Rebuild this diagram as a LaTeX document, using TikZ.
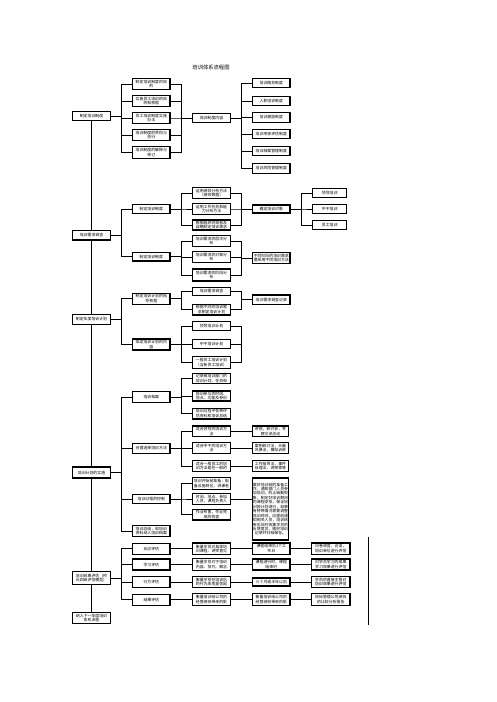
\documentclass[tikz,border=0pt]{standalone}
\usepackage{fontspec}
\newfontfamily\cjk{Noto Sans CJK SC}
\begin{document}
\begin{tikzpicture}[x=1pt,y=-1pt]
\tikzset{
 bx/.style={draw, line width=1.15pt, minimum width=37.3pt, minimum height=9.5pt, inner sep=0.3pt, align=center, font=\cjk\fontsize{3.9}{4.6}\selectfont},
 bxx/.style={bx, minimum height=11.5pt},
 ln/.style={line width=0.9pt},
 ttl/.style={font=\cjk\fontsize{5.3}{6}\selectfont, inner sep=0pt}
}
\fill[white] (0,0) rectangle (496,702);
\useasboundingbox (0,0) rectangle (496,702);
\coordinate (b1) at (121.7,0);
\coordinate (b2) at (181.5,0);
\coordinate (b3) at (241.7,0);
\coordinate (b4) at (301.7,0);

\node[ttl] (title) at (211,67.5) {培训体系流程图};

% left column
\node[bx, minimum width=38.4pt] (L1) at (91.5,116) {制定培训制度};
\node[bx, minimum width=38.4pt] (L2) at (91.5,235.3) {培训需求调查};
\node[bx, minimum width=38.4pt] (L3) at (91.5,319.5) {制定年度培训计划};
\node[bx, minimum width=38.4pt, minimum height=11pt] (L4) at (91.5,472.5) {培训计划的实施};
\node[bx, minimum width=38.4pt, minimum height=12.6pt] (L5) at (91.5,578) {培训效果评估（柯\\氏四级评估模型）};
\node[bx, minimum width=38.4pt, minimum height=11pt] (L6) at (91.5,617.8) {纳入下一年度培训\\体系流程};
\draw[ln] (L1.south) -- (L2.north);
\draw[ln] (L2.south) -- (L3.north);
\draw[ln] (L3.south) -- (L4.north);
\draw[ln] (L4.south) -- (L5.north);
\draw[ln] (L5.south) -- (L6.north);

% section 1
\node[bxx] (A1) at (151.3,84) {制定培训制度的目\\的};
\node[bxx] (A2) at (151.3,101) {实施员工培训的目\\的和依据};
\node[bxx] (A3) at (151.3,118) {员工培训制度实施\\办法};
\node[bxx] (A4) at (151.3,135) {培训制度的贯彻与\\执行};
\node[bxx] (A5) at (151.3,152.4) {培训制度的解释与\\修订};
\node[bx, minimum width=38.4pt, minimum height=8.5pt] (M1) at (211.5,118) {培训制度内容};
\node[bx] (R1) at (271.3,83) {培训服务制度};
\node[bx] (R2) at (271.3,101) {入职培训制度};
\node[bx] (R3) at (271.3,117.5) {培训激励制度};
\node[bx] (R4) at (271.3,134) {培训考核评估制度};
\node[bx] (R5) at (271.3,151) {培训档案管理制度};
\node[bx] (R6) at (271.3,168.5) {培训风险管理制度};
\foreach \c in {A1,A2,A3,A4,A5} {
  \draw[ln] (L1.east) -- (L1.east -| b1) |- (\c.west);
  \draw[ln] (\c.east) -- (\c.east -| b2) |- (M1.west);
}
\foreach \c in {R1,R2,R3,R4,R5,R6}
  \draw[ln] (M1.east) -- (M1.east -| b3) |- (\c.west);

% section 2
\node[bx, minimum height=8.5pt] (B1) at (151.3,209) {制定培训制度};
\node[bx, minimum height=8.5pt] (B2) at (151.3,256.8) {制定培训制度};
\node[bx, minimum width=38.4pt, minimum height=11pt] (F1) at (211.5,193) {运用绩效分析方法\\（绩效数据）};
\node[bx, minimum width=38.4pt, minimum height=10.3pt] (F2) at (211.5,209) {运用工作任务和能\\力分析方法};
\node[bx, minimum width=38.4pt, minimum height=10pt] (F3) at (211.5,225) {根据组织的目标及\\战略制定培训需求};
\node[bx, minimum width=38.4pt, minimum height=11.5pt] (G1) at (211.5,241) {培训需求的层次分\\析};
\node[bx, minimum width=38.4pt, minimum height=11pt] (G2) at (211.5,257.2) {培训需求的对象分\\析};
\node[bx, minimum width=38.4pt, minimum height=12pt] (G3) at (211.5,275) {培训需求的阶段分\\析};
\node[bx, minimum height=8pt] (S1) at (271.3,209) {确定培训对象};
\node[bx, minimum height=10.6pt] (S2) at (271.3,258) {不同阶段的培训需求\\要采用不同培训方法};
\node[bx, minimum width=34pt, minimum height=9pt] (Z1) at (329.7,193) {领导培训};
\node[bx, minimum width=34pt, minimum height=9pt] (Z2) at (329.7,209) {中干培训};
\node[bx, minimum width=34pt, minimum height=9pt] (Z3) at (329.7,225) {员工培训};
\draw[ln] (L2.east) -- (L2.east -| b1) |- (B1.west);
\draw[ln] (L2.east) -- (L2.east -| b1) |- (B2.west);
\foreach \c in {F1,F2,F3} {
  \draw[ln] (B1.east) -- (B1.east -| b2) |- (\c.west);
  \draw[ln] (\c.east) -- (\c.east -| b3) |- (S1.west);
}
\foreach \c in {G1,G2,G3} {
  \draw[ln] (B2.east) -- (B2.east -| b2) |- (\c.west);
  \draw[ln] (\c.east) -- (\c.east -| b3) |- (S2.west);
}
\foreach \c in {Z1,Z2,Z3}
  \draw[ln] (S1.east) -- (S1.east -| b4) |- (\c.west);

% section 3
\node[bx, minimum height=11pt] (C1) at (151.3,298.8) {制定培训计划的指\\导依据};
\node[bx, minimum height=11pt] (C2) at (151.3,344.5) {拟定培训计划的内\\容};
\node[bx, minimum width=38.4pt, minimum height=8.5pt] (H1) at (211.5,291.5) {培训需求调查};
\node[bx, minimum width=38.4pt, minimum height=10.7pt] (H2) at (211.5,309.7) {根据不同的培训需\\求制定培训计划};
\node[bx, minimum height=9.3pt] (T1) at (271.3,299.7) {培训需求调查记录};
\node[bx, minimum width=38.4pt, minimum height=8.5pt] (I1) at (211.5,326) {领导培训计划};
\node[bx, minimum width=38.4pt, minimum height=8.5pt] (I2) at (211.5,344) {中干培训计划};
\node[bx, minimum width=38.4pt, minimum height=11.6pt] (I3) at (211.5,362.5) {一般员工培训计划\\（含新员工培训）};
\draw[ln] (L3.east) -- (L3.east -| b1) |- (C1.west);
\draw[ln] (L3.east) -- (L3.east -| b1) |- (C2.west);
\foreach \c in {H1,H2} {
  \draw[ln] (C1.east) -- (C1.east -| b2) |- (\c.west);
  \draw[ln] (\c.east) -- (\c.east -| b3) |- (T1.west);
}
\foreach \c in {I1,I2,I3} {
  \draw[ln] (C2.east) -- (C2.east -| b2) |- (\c.west);
  \draw[ln] (\c.east) -- (\c.east -| b3);
}
\draw[ln] (I1.east -| b3) -- (I3.east -| b3);

% section 4
\node[bx, minimum height=10.6pt] (D1) at (151.3,397) {培训档案};
\node[bx, minimum height=10pt] (D2) at (151.3,448.5) {合理选择培训方法};
\node[bx, minimum height=8.5pt] (D3) at (151.3,499) {培训过程的控制};
\node[bx, minimum height=11.7pt] (D4) at (151.3,531) {培训总结，和培训\\资料纳入培训档案};
\node[bx, minimum width=38.4pt, minimum height=10pt] (J1) at (211.5,378.3) {记录被培训部门的\\培训计划、任务和};
\node[bx, minimum width=38.4pt, minimum height=10pt] (J2) at (211.5,396) {培训参与的时间、\\地点、功能及参训};
\node[bx, minimum width=38.4pt, minimum height=10.7pt] (J3) at (211.5,413.7) {培训过程中各种评\\估资料和培训总结};
\node[bx, minimum width=38.4pt, minimum height=10.7pt] (K1) at (211.5,431.3) {适合领导的培训方\\法};
\node[bx, minimum width=38.4pt, minimum height=10.7pt] (K2) at (211.5,448) {适合中干的培训方\\法};
\node[bx, minimum width=38.4pt, minimum height=11.7pt] (K3) at (211.5,466) {适合一般员工的培\\训方法是在一般的};
\node[bx, minimum width=35.6pt, minimum height=10.7pt] (U1) at (270.5,431.3) {讲授，研讨会，考\\察交流活动};
\node[bx, minimum width=35.6pt, minimum height=10.7pt] (U2) at (270.5,448) {案例研讨法，头脑\\风暴法，模拟训练};
\node[bx, minimum width=35.6pt, minimum height=11.7pt] (U3) at (270.5,466) {工作指导法，事件\\处理法，讲授等等};
\node[bx, minimum width=38.4pt, minimum height=11.6pt] (P1) at (211.5,483.5) {培训开始前准备，配\\备设施到位，讲课老};
\node[bx, minimum width=38.4pt, minimum height=11.7pt] (P2) at (211.5,499) {时间、地点、参加\\人员，课程负责人};
\node[bx, minimum width=38.4pt, minimum height=10.7pt] (P3) at (211.5,514.7) {作业布置，作业完\\成的检查};
\node[bx, minimum width=35.6pt, minimum height=62pt, font=\cjk\fontsize{3.9}{4.45}\selectfont] (V) at (270.5,509) {做好培训前的准备工\\作，通知部门人员参\\加培训，防止缺勤现\\象，制定好培训期间\\的课程安排，保证培\\训按计划进行，如果\\有特殊情况需要调整\\培训时间，应提前通\\知相关人员，培训结\\束后及时收集学员的\\反馈意见，做好培训\\记录并归档保存。};
\foreach \c in {D1,D2,D3,D4}
  \draw[ln] (L4.east) -- (L4.east -| b1) |- (\c.west);
\foreach \c in {J1,J2,J3}
  \draw[ln] (D1.east) -- (D1.east -| b2) |- (\c.west);
\foreach \c in {K1,K2,K3}
  \draw[ln] (D2.east) -- (D2.east -| b2) |- (\c.west);
\foreach \c in {P1,P2,P3}
  \draw[ln] (D3.east) -- (D3.east -| b2) |- (\c.west);
\draw[ln] (K1.east) -- (U1.west);
\draw[ln] (K2.east) -- (U2.west);
\draw[ln] (K3.east) -- (U3.west);
\draw[ln] (P2.east) -- (P2.east -| V.west);

% section 5
\node[bx, minimum height=11pt] (E1) at (151.3,548.8) {反应评估};
\node[bx, minimum height=11pt] (E2) at (151.3,564.5) {学习评估};
\node[bx, minimum height=11pt] (E3) at (151.3,582) {行为评估};
\node[bx, minimum height=11pt] (E4) at (151.3,599.7) {结果评估};
\node[bx, minimum width=38.4pt, minimum height=11.7pt] (Q1) at (211.5,548.8) {衡量学员对具体培\\训课程、讲师意见};
\node[bx, minimum width=38.4pt, minimum height=11.7pt] (Q2) at (211.5,564.5) {衡量学员对于培训\\内容、技巧、概念};
\node[bx, minimum width=38.4pt, minimum height=11.7pt] (Q3) at (211.5,582) {衡量学员在培训后\\的行为改变是否因};
\node[bx, minimum width=38.4pt, minimum height=11.7pt] (Q4) at (211.5,599.7) {衡量培训给公司的\\经营绩效带来的影};
\node[bx, minimum height=11.7pt] (W1) at (271.3,548.8) {课程结束后1个工\\作日};
\node[bx, minimum height=11pt] (W2) at (271.3,564.5) {课程进行时，课程\\结束时};
\node[bx, minimum height=8pt] (W3) at (271.3,582) {三个月或半年以后};
\node[bx, minimum height=11.7pt] (W4) at (271.3,599.7) {衡量培训给公司的\\经营绩效带来的影};
\node[bx, minimum width=38.3pt, minimum height=11.7pt] (X1) at (330.8,548.8) {问卷调查，访谈，\\培训单位进行评估};
\node[bx, minimum width=38.3pt, minimum height=11pt] (X2) at (330.8,564.5) {对学员学习的成果\\学习效果进行评估};
\node[bx, minimum width=38.3pt, minimum height=11pt] (X3) at (330.8,582) {学员的直接主管对\\培训效果进行评估};
\node[bx, minimum width=38.3pt, minimum height=11.7pt] (X4) at (330.8,599.7) {目标管理公司绩效\\的比较分析报告};
\foreach \i in {1,2,3,4} {
  \draw[ln] (L5.east) -- (L5.east -| b1) |- (E\i.west);
  \draw[ln] (E\i.east) -- (Q\i.west);
  \draw[ln] (Q\i.east) -- (W\i.west);
  \draw[ln] (W\i.east) -- (X\i.west);
}

% right edge line
\coordinate (f1) at (368,537);
\coordinate (f2) at (368,624.5);
\draw[line width=0.9pt] (f1) -- (f2);
\end{tikzpicture}
\end{document}
